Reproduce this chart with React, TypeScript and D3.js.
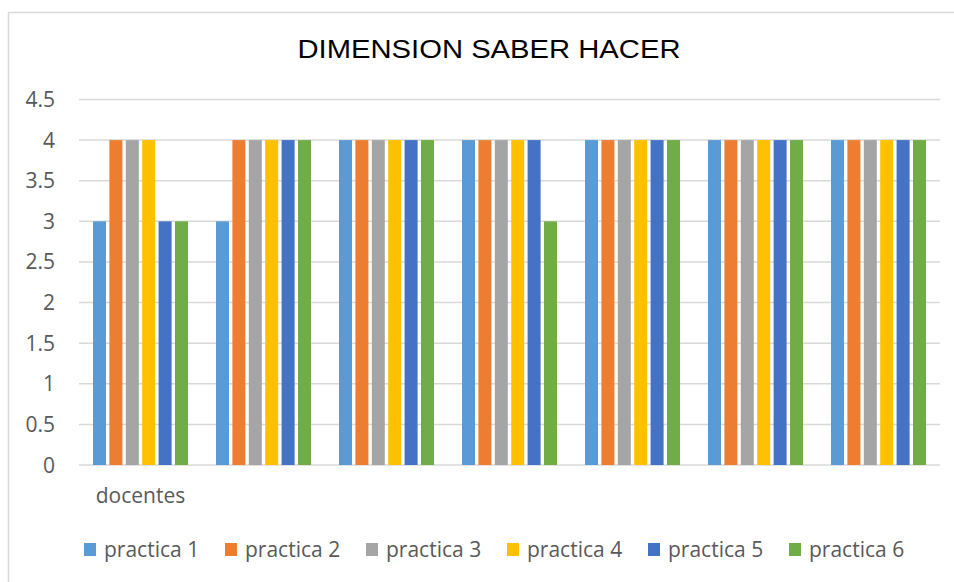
import React from "react";
import * as d3 from "d3";

const groups = ["docentes", "g2", "g3", "g4", "g5", "g6", "g7"];
const groupLabels = ["docentes", "", "", "", "", "", ""];
const seriesNames = ["practica 1", "practica 2", "practica 3", "practica 4", "practica 5", "practica 6"];
const colors = ["#5B9BD5", "#ED7D31", "#A5A5A5", "#FFC000", "#4472C4", "#70AD47"];
const practica1 = [3, 3, 4, 4, 4, 4, 4];
const practica2 = [4, 4, 4, 4, 4, 4, 4];
const practica3 = [4, 4, 4, 4, 4, 4, 4];
const practica4 = [4, 4, 4, 4, 4, 4, 4];
const practica5 = [3, 4, 4, 4, 4, 4, 4];
const practica6 = [3, 4, 4, 3, 4, 4, 4];
const seriesValues = [practica1, practica2, practica3, practica4, practica5, practica6];
const yTicks = [0, 0.5, 1, 1.5, 2, 2.5, 3, 3.5, 4, 4.5];
const title = "DIMENSION SABER HACER";

export default function App() {
  const W = 954, H = 582;
  const x0 = d3.scaleBand<string>().domain(groups).range([79, 940]).paddingInner(0.2).paddingOuter(0.1);
  const x1 = d3.scaleBand<string>().domain(seriesNames).range([0, x0.bandwidth()]);
  const y = d3.scaleLinear().domain([0, 4.5]).range([465, 99.5]);
  const gap = 3.4;
  const font = "'Open Sans', sans-serif";
  return (
    <svg width={W} height={H} style={{ position: "absolute", left: 0, top: 0 }}>
      <rect x={0} y={0} width={W} height={H} fill="#fff" />
      <rect x={8.5} y={12.5} width={1000} height={1000} fill="none" stroke="#d9d9d9" strokeWidth={1.5} />
      <text x={489} y={58} textAnchor="middle" fontFamily="'Liberation Sans', Arial, sans-serif" fontSize={26} fill="#000" textLength={383} lengthAdjust="spacingAndGlyphs">{title}</text>
      {yTicks.map((t) => (
        <g key={t}>
          <line x1={79} x2={940} y1={y(t)} y2={y(t)} stroke="#d9d9d9" strokeWidth={1.5} />
          <text x={55} y={y(t) + 7.5} textAnchor="end" fontFamily={font} fontSize={21} fill="#595959">{t}</text>
        </g>
      ))}
      {groups.map((g, gi) => (
        <g key={g}>
          {seriesNames.map((s, si) => {
            const v = seriesValues[si][gi];
            const bx = (x0(g) as number) + (x1(s) as number) + gap / 2;
            return (
              <rect key={s} x={bx} y={y(v)} width={x1.bandwidth() - gap} height={y(0) - y(v)} fill={colors[si]} />
            );
          })}
          {groupLabels[gi] && (
            <text x={(x0(g) as number) + x0.bandwidth() / 2} y={503} textAnchor="middle" fontFamily={font} fontSize={21} fill="#595959">{groupLabels[gi]}</text>
          )}
        </g>
      ))}
      {seriesNames.map((s, i) => (
        <g key={s} transform={`translate(${84 + i * 141},0)`}>
          <rect x={0} y={543} width={12} height={13} fill={colors[i]} />
          <text x={20} y={557} fontFamily={font} fontSize={21} fill="#595959">{s}</text>
        </g>
      ))}
    </svg>
  );
}
